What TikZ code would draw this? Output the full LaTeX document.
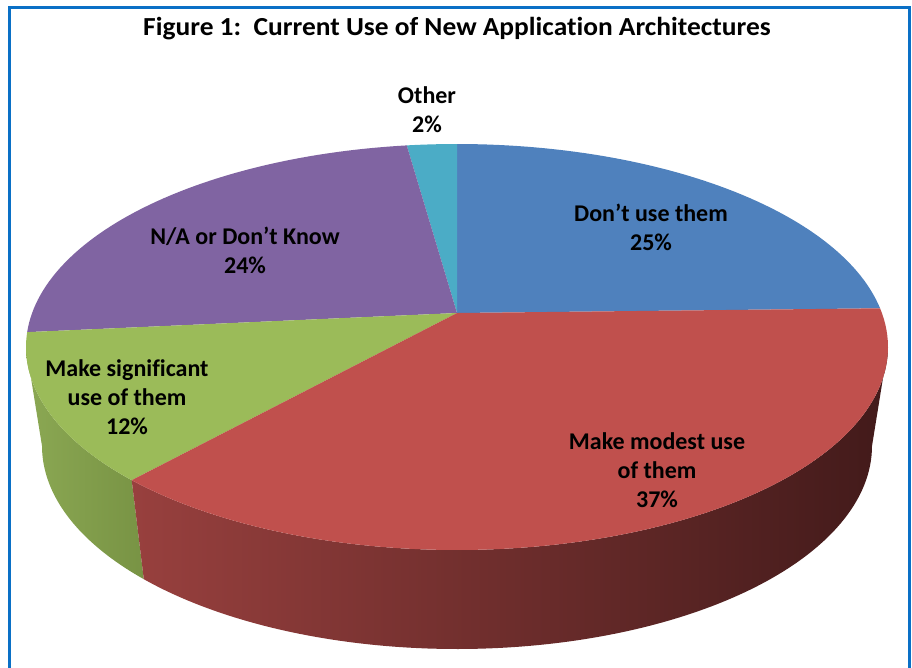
\documentclass[tikz,border=0pt]{standalone}
\usepackage{fontspec}
\setmainfont{Carlito}[Ligatures=NoCommon]
\definecolor{sblue}{HTML}{4F81BD}
\definecolor{sred}{HTML}{C0504D}
\definecolor{sgreen}{HTML}{9BBB59}
\definecolor{spurple}{HTML}{8064A2}
\definecolor{saqua}{HTML}{4BACC6}
\definecolor{frame}{HTML}{0A70C6}
\definecolor{redsideL}{HTML}{98403E}
\definecolor{redsideR}{HTML}{421A1A}
\definecolor{greensideL}{HTML}{8BA853}
\definecolor{greensideR}{HTML}{789344}
\begin{document}
\begin{tikzpicture}[x=1pt,y=-1pt,
  lbl/.style={font=\bfseries\fontsize{24}{29}\selectfont, align=center, text=black, inner sep=0pt}]
\useasboundingbox (0,0) rectangle (912,667);
% frame
\draw[frame, line width=3pt] (9.5,690) -- (9.5,7.5) -- (909.5,7.5) -- (909.5,690);
% title
\node[font=\bfseries\fontsize{26}{30}\selectfont, inner sep=0pt, xscale=1.055] (title) at (457,29) {Figure 1:\ \ Current Use of New Application Architectures};
% sides
\shade[left color=greensideL, right color=greensideR]
  plot[domain=180:221,samples=40] ({457+431*cos(\x)},{347-203*sin(\x)})
  -- plot[domain=221:180,samples=40] ({457+415*cos(\x)},{446-203*sin(\x)}) -- cycle;
\shade[left color=redsideL, right color=redsideR]
  plot[domain=221:360,samples=100] ({457+431*cos(\x)},{347-203*sin(\x)})
  -- plot[domain=360:221,samples=100] ({457+415*cos(\x)},{446-203*sin(\x)}) -- cycle;
% top faces
\fill[sblue] (457,313) -- plot[domain=11:90,samples=60] ({457+431*cos(\x)},{347-203*sin(\x)}) -- cycle;
\fill[saqua] (457,313) -- plot[domain=90:96.7,samples=10] ({457+431*cos(\x)},{347-203*sin(\x)}) -- cycle;
\fill[spurple] (457,313) -- plot[domain=96.7:175.8,samples=60] ({457+431*cos(\x)},{347-203*sin(\x)}) -- cycle;
\fill[sgreen] (457,313) -- plot[domain=175.8:221,samples=40] ({457+431*cos(\x)},{347-203*sin(\x)}) -- cycle;
\fill[sred] (457,313) -- plot[domain=221:371,samples=100] ({457+431*cos(\x)},{347-203*sin(\x)}) -- cycle;
% labels
\node[lbl] (other) at (427,110) {Other\\2\%};
\node[lbl] (dont) at (651,227) {Don’t use them\\25\%};
\node[lbl] (na) at (245,250) {N/A or Don’t Know\\24\%};
\node[lbl] (sig) at (127,397) {Make significant\\use of them\\12\%};
\node[lbl] (mod) at (657,470) {Make modest use\\of them\\37\%};
\end{tikzpicture}
\end{document}
